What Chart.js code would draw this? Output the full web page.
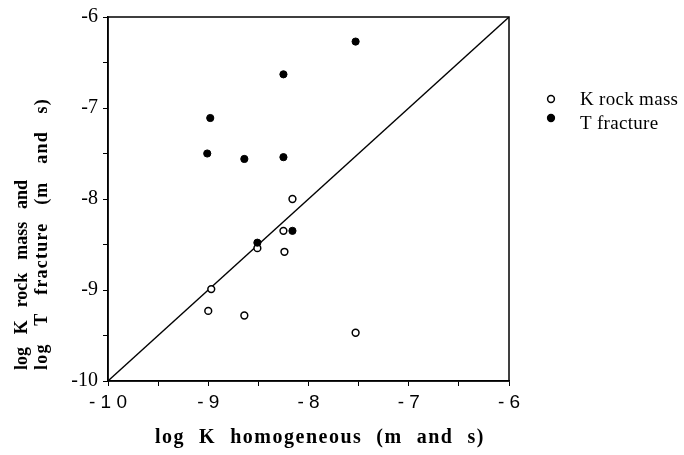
<!DOCTYPE html>
<html>
<head>
<meta charset="utf-8">
<script src="https://cdn.jsdelivr.net/npm/chart.js@4"></script>
<style>
html,body{margin:0;padding:0;background:#fff;}
#c{display:block;}
</style>
</head>
<body>
<canvas id="c" width="684" height="455"></canvas>
<script>
// ---- data ----
const seriesNames = ['K rock mass', 'T fracture'];
const kRockX = [-8.16, -8.25, -8.51, -8.24, -8.97, -9.00, -8.64, -7.53];
const kRockY = [-8.00, -8.35, -8.54, -8.58, -8.99, -9.23, -9.28, -9.47];
const tFracX = [-7.53, -8.25, -8.98, -9.01, -8.64, -8.25, -8.51, -8.16];
const tFracY = [-6.27, -6.63, -7.11, -7.50, -7.56, -7.54, -8.48, -8.35];
const diagX = [-10, -6];
const diagY = [-10, -6];
const xTickValues = [-10, -9, -8, -7, -6];
const xTickLabels = ['-10', '-9', '-8', '-7', '-6'];
const yTickValues = [-10, -9, -8, -7, -6];
const yTickLabels = ['-10', '-9', '-8', '-7', '-6'];
const xTitle = 'log K homogeneous (m and s)';
const yTitleLines = ['log K rock mass and', 'log T fracture (m and s)'];

const toPts = (xs, ys) => xs.map((x, i) => ({x: x, y: ys[i]}));

function fitText(ctx, text, x, y, target, letterSp) {
  ctx.letterSpacing = letterSp + 'px';
  ctx.wordSpacing = '0px';
  const w = ctx.measureText(text).width;
  const nSp = (text.match(/ /g) || []).length;
  const ws = nSp ? Math.max(0, (target - w) / nSp) : 0;
  ctx.wordSpacing = ws + 'px';
  ctx.fillText(text, x, y);
  ctx.letterSpacing = '0px';
  ctx.wordSpacing = '0px';
}

const decor = {
  id: 'decor',
  afterDraw(chart) {
    const ctx = chart.ctx;
    const a = chart.chartArea;
    ctx.save();
    // frame
    ctx.strokeStyle = '#000';
    ctx.lineWidth = 1.5;
    ctx.strokeRect(a.left, a.top, a.right - a.left, a.bottom - a.top);
    ctx.fillStyle = '#000';
    // x title
    ctx.font = 'bold 20px "Liberation Serif"';
    ctx.textBaseline = 'middle';
    ctx.textAlign = 'left';
    fitText(ctx, xTitle, 155, 438, 330, 1.5);
    // y title
    ctx.save();
    ctx.translate(22, 370);
    ctx.rotate(-Math.PI / 2);
    ctx.font = 'bold 18px "Liberation Serif"';
    fitText(ctx, yTitleLines[0], 0, 0, 190, 0);
    ctx.restore();
    ctx.save();
    ctx.translate(42, 370);
    ctx.rotate(-Math.PI / 2);
    ctx.font = 'bold 18px "Liberation Serif"';
    fitText(ctx, yTitleLines[1], 0, 0, 272, 1.2);
    ctx.restore();
    // legend
    const ds = chart.data.datasets;
    const rows = [{cy: 99, ty: 105}, {cy: 118, ty: 129}];
    ctx.font = '19px "Liberation Serif"';
    ctx.textBaseline = 'alphabetic';
    seriesNames.forEach((name, i) => {
      const d = ds.find(s => s.label === name);
      ctx.beginPath();
      ctx.arc(551, rows[i].cy, 3.4, 0, Math.PI * 2);
      ctx.fillStyle = d.pointBackgroundColor;
      ctx.fill();
      ctx.lineWidth = 1.5;
      ctx.strokeStyle = '#000';
      ctx.stroke();
      ctx.fillStyle = '#000';
      ctx.letterSpacing = '0.3px';
      ctx.fillText(d.label, 580, rows[i].ty);
      ctx.letterSpacing = '0px';
    });
    ctx.restore();
  }
};

function spaced(s) { return s.split('').join(' '); }

new Chart(document.getElementById('c'), {
  type: 'scatter',
  data: {
    datasets: [
      {
        label: seriesNames[1],
        data: toPts(tFracX, tFracY),
        pointRadius: 3.6,
        pointBackgroundColor: '#000',
        pointBorderColor: '#000',
        pointBorderWidth: 1,
        showLine: false
      },
      {
        label: seriesNames[0],
        data: toPts(kRockX, kRockY),
        pointRadius: 3.4,
        pointBackgroundColor: '#fff',
        pointBorderColor: '#000',
        pointBorderWidth: 1.5,
        showLine: false
      },
      {
        type: 'line',
        label: 'diag',
        data: toPts(diagX, diagY),
        borderColor: '#000',
        borderWidth: 1.3,
        pointRadius: 0,
        fill: false,
        tension: 0
      }
    ]
  },
  options: {
    responsive: false,
    animation: false,
    devicePixelRatio: 1,
    layout: {padding: {left: 0, top: 14, right: 175, bottom: 0}},
    plugins: {legend: {display: false}, tooltip: {enabled: false}},
    scales: {
      x: {
        type: 'linear', min: -10, max: -6,
        afterFit: s => { s.height = 74; },
        border: {display: true, color: '#000', width: 1.5},
        grid: {display: true, drawOnChartArea: false, drawTicks: true, tickLength: 5, color: '#000', lineWidth: 1},
        ticks: {
          stepSize: 0.5, autoSkip: false, maxRotation: 0, padding: 5, color: '#000',
          font: {family: '"Liberation Sans"', size: 19},
          callback: v => { const i = xTickValues.indexOf(v); return i >= 0 ? spaced(xTickLabels[i]) : ''; }
        },
        title: {display: false}
      },
      y: {
        type: 'linear', min: -10, max: -6,
        afterFit: s => { s.width = 108; },
        border: {display: true, color: '#000', width: 1.5},
        grid: {display: true, drawOnChartArea: false, drawTicks: true, tickLength: 5, color: '#000', lineWidth: 1},
        ticks: {
          stepSize: 0.5, autoSkip: false, padding: 5, color: '#000',
          font: {family: '"Liberation Serif"', size: 20},
          callback: v => { const i = yTickValues.indexOf(v); return i >= 0 ? yTickLabels[i] : ''; }
        },
        title: {display: false}
      }
    }
  },
  plugins: [decor]
});
</script>
</body>
</html>
